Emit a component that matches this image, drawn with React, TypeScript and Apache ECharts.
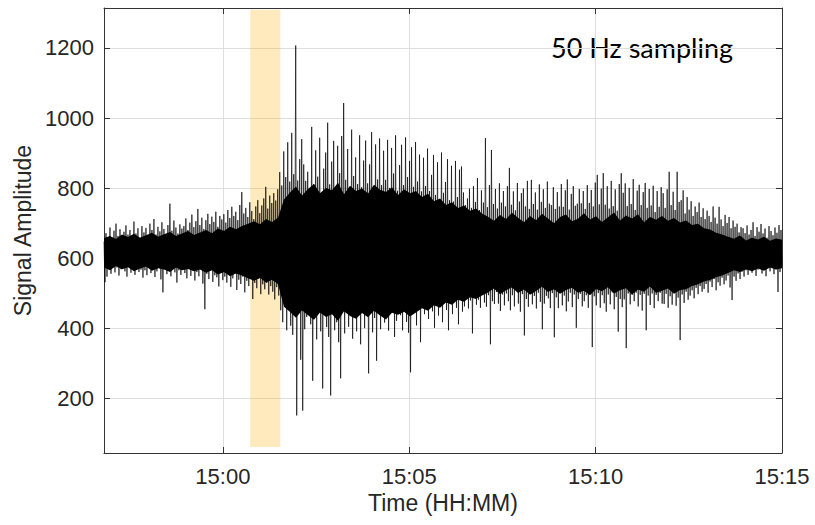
import React, { useEffect, useRef } from 'react';
import * as echarts from 'echarts';

// Signal samples (alternating local maxima / minima), read left to right from 14:56:49 to 15:15:00
const SEG_01 = [648,532, 672,548, 660,571, 688,556, 655,580, 679,560, 699,574, 664,551, 683,569, 657,582, 676,563, 694,548, 668,575, 681,559, 662,570, 705,553, 671,578, 686,561, 659,568, 692,545];
const SEG_02 = [674,566, 687,552, 663,579, 699,558, 681,570, 712,547, 668,563, 690,575, 677,540, 703,503, 684,572, 666,555, 695,568, 756,549, 679,577, 708,560, 688,531, 671,566, 697,553, 685,574];
const SEG_03 = [692,558, 714,543, 681,572, 702,550, 725,566, 689,537, 706,561, 741,549, 695,570, 716,528, 684,455, 709,556, 727,541, 698,569, 719,533, 704,552, 733,546, 690,520, 721,561, 711,538];
const SEG_04 = [726,548, 702,531, 738,560, 715,519, 747,543, 721,556, 733,510, 709,539, 752,527, 789,548, 728,503, 744,536, 718,521, 760,549, 735,484, 712,530, 748,515, 766,542, 729,498, 751,526];
const SEG_05 = [771,512, 804,530, 742,497, 779,521, 758,505, 786,483, 765,518, 797,494, 846,452, 808,418, 905,470, 832,395, 931,457, 819,408, 958,382, 840,466, 1207,152, 822,449, 883,311, 940,166];
const SEG_06 = [868,398, 821,433, 847,460, 796,412, 975,251, 812,441, 908,369, 833,467, 944,392, 789,229, 856,455, 902,404, 987,376, 811,209, 876,462, 935,395, 798,418, 921,361, 843,258, 949,449];
const SEG_07 = [1043,386, 824,452, 912,405, 801,447, 967,371, 835,468, 888,392, 812,437, 951,355, 803,474, 879,401, 936,446, 814,272, 868,463, 960,389, 797,430, 925,308, 825,471, 942,398, 809,440];
const SEG_08 = [907,417, 824,463, 938,394, 801,449, 915,471, 842,376, 951,422, 793,457, 866,438, 924,395, 809,467, 945,419, 832,388, 878,275, 917,462, 804,452, 932,409, 819,476, 896,361, 791,465];
const SEG_09 = [887,441, 806,458, 913,427, 792,466, 838,449, 895,402, 781,471, 874,437, 769,482, 902,418, 787,479, 818,453, 883,395, 766,488, 864,441, 762,476, 878,459, 775,412, 853,482, 862,448];
const SEG_10 = [788,463, 752,491, 771,457, 799,480, 744,386, 806,493, 761,468, 829,482, 738,459, 794,501, 759,474, 943,462, 746,495, 809,355, 909,478, 755,470, 798,504, 742,471, 814,450, 759,497];
const SEG_11 = [792,466, 748,500, 806,478, 858,452, 753,495, 791,463, 737,507, 815,471, 762,448, 786,498, 799,380, 748,484, 821,462, 741,505, 824,469, 755,493, 788,457, 739,502, 811,476, 761,398];
const SEG_12 = [797,471, 744,493, 819,486, 756,458, 752,501, 803,375, 741,489, 789,458, 748,505, 812,466, 747,494, 794,449, 825,477, 739,502, 784,461, 806,497, 750,402, 756,484, 798,499, 757,463];
const SEG_13 = [792,478, 741,495, 809,459, 758,500, 795,347, 748,492, 816,466, 838,501, 754,459, 799,495, 843,472, 753,448, 806,497, 742,469, 821,503, 749,455, 797,490, 736,391, 812,484, 843,461];
const SEG_14 = [787,483, 814,344, 749,500, 801,469, 755,496, 826,478, 738,502, 793,463, 810,496, 752,451, 789,499, 815,395, 744,494, 798,467, 751,500, 807,458, 732,496, 792,478, 747,502, 803,471];
const SEG_15 = [786,470, 744,499, 797,459, 847,492, 752,468, 790,501, 738,465, 847,488, 761,367, 766,497, 794,473, 728,505, 775,482, 739,494, 763,509, 721,486, 748,516, 732,498, 759,521, 718,505];
const SEG_16 = [743,513, 712,527, 736,502, 721,534, 704,518, 748,541, 716,509, 699,532, 747,522, 711,545, 692,526, 724,537, 701,551, 718,517, 686,481, 708,548, 690,536, 699,557, 674,541, 689,562];
const SEG_17 = [686,548, 672,566, 694,553, 668,571, 681,559, 703,576, 664,550, 689,568, 676,581, 698,557, 671,572, 685,549, 659,578, 692,563, 678,584, 666,555, 688,569, 673,504, 695,561, 681,576];

// Dense (solid) core of the signal, upper and lower edge, evenly spaced from 14:56:49 to 15:15:00
const CORE_TOP = [
  658, 664, 655, 668, 661, 670, 659, 666, 673, 662, 669, 675, 664, 671, 678, 667, 674,
  681, 672, 685, 678, 690, 683, 692,
  699, 706, 697, 712, 704, 716,
  768,
  788, 805, 779, 798, 812, 786, 801, 794, 816, 783, 807, 792, 799, 785, 810, 796, 789, 803, 781, 797, 786,
  792, 775, 784, 763, 771, 752, 760, 744, 751, 736, 742, 728,
  719, 707, 724, 712, 730, 716, 703, 721, 709, 727, 714, 700, 718, 725, 706, 713, 729, 711, 720, 704, 717, 731, 708, 722, 714, 726, 703, 718, 710, 721, 707, 715, 702,
  708, 695, 699, 686, 682, 673, 668,
  662, 656, 665, 651, 659, 654, 662, 650, 657, 653,
];
const CORE_BOTTOM = [
  574, 566, 578, 569, 575, 563, 571, 577, 565, 572, 568, 561, 574, 566, 570, 563, 568,
  559, 566, 554, 561, 549, 557, 551,
  543, 536, 545, 531, 539, 527,
  462,
  447, 431, 452, 438, 425, 446, 433, 441, 422, 449, 436, 428, 444, 432, 451, 437, 426, 445, 439, 448, 434,
  446, 458, 451, 466, 459, 474, 468, 482, 476, 489, 484, 494,
  503, 514, 498, 509, 517, 501, 511, 496, 507, 519, 504, 512, 499, 510, 516, 502, 508, 495, 513, 506, 518, 500, 509, 515, 497, 511, 505, 520, 502, 508, 514, 499, 510,
  512, 521, 526, 534, 538, 546, 551,
  558, 566, 561, 569, 563, 571, 565, 574, 568, 572,
];

// Time axis in minutes relative to 15:00
const T_START = -3.19;
const T_END = 15;
const X_TICKS = [0, 5, 10, 15];
const X_TICK_LABELS = ['15:00', '15:05', '15:10', '15:15'];
const Y_MIN = 45;
const Y_MAX = 1314;
const Y_TICKS = [200, 400, 600, 800, 1000, 1200];
// Highlighted window (minutes after 15:00) and its vertical extent
const BAND_X = [0.733, 1.54];
const BAND_Y = [62, 1309];

const SIGNAL = [
  ...SEG_01, ...SEG_02, ...SEG_03, ...SEG_04, ...SEG_05, ...SEG_06, ...SEG_07, ...SEG_08, ...SEG_09,
  ...SEG_10, ...SEG_11, ...SEG_12, ...SEG_13, ...SEG_14, ...SEG_15, ...SEG_16, ...SEG_17,
];

const AXIS_COLOR = '#333333';
const GRID_COLOR = '#dedede';
const FONT = 'Liberation Sans, Arial, sans-serif';

export default function App() {
  const ref = useRef<HTMLDivElement>(null);

  useEffect(() => {
    const chart = echarts.init(ref.current!, null, { renderer: 'svg' });
    const step = (T_END - T_START) / (SIGNAL.length - 1);
    const data = SIGNAL.map((v, i) => [T_START + i * step, v]);
    const coreStep = (T_END - T_START) / (CORE_TOP.length - 1);

    const xBase = {
      type: 'value' as const,
      min: T_START,
      max: T_END,
      axisLine: { show: true, onZero: false, lineStyle: { color: AXIS_COLOR, width: 1 } },
      axisTick: { show: true, inside: true, length: 6, customValues: X_TICKS, lineStyle: { color: AXIS_COLOR } },
    };
    const yBase = {
      type: 'value' as const,
      min: Y_MIN,
      max: Y_MAX,
      axisLine: { show: true, onZero: false, lineStyle: { color: AXIS_COLOR, width: 1 } },
      axisTick: { show: true, inside: true, length: 6, customValues: Y_TICKS, lineStyle: { color: AXIS_COLOR } },
    };

    chart.setOption({
      animation: false,
      backgroundColor: '#ffffff',
      grid: { left: 104, top: 8, width: 678, height: 445, containLabel: false, outerBoundsMode: 'none' },
      xAxis: [
        {
          ...xBase,
          position: 'bottom',
          name: 'Time (HH:MM)',
          nameLocation: 'middle',
          nameGap: 36,
          nameTextStyle: { fontFamily: FONT, fontSize: 23, color: '#262626' },
          axisLabel: {
            customValues: X_TICKS,
            margin: 12,
            fontFamily: FONT,
            fontSize: 22,
            color: '#262626',
            formatter: (v: number) => X_TICK_LABELS[X_TICKS.indexOf(v)] ?? '',
          },
          splitLine: { show: true, lineStyle: { color: GRID_COLOR, width: 1 } },
        },
        {
          ...xBase,
          position: 'top',
          axisLabel: { show: false },
          splitLine: { show: false },
        },
      ],
      yAxis: [
        {
          ...yBase,
          position: 'left',
          name: 'Signal Amplitude',
          nameLocation: 'middle',
          nameGap: 64,
          nameTextStyle: { fontFamily: FONT, fontSize: 23, color: '#262626' },
          axisLabel: {
            customValues: Y_TICKS,
            margin: 10,
            fontFamily: FONT,
            fontSize: 22,
            color: '#262626',
            formatter: (v: number) => String(v),
          },
          splitLine: { show: true, lineStyle: { color: GRID_COLOR, width: 1 } },
        },
        {
          ...yBase,
          position: 'right',
          axisLabel: { show: false },
          splitLine: { show: false },
        },
      ],
      series: [
        {
          type: 'custom',
          xAxisIndex: 0,
          yAxisIndex: 0,
          data: [0],
          silent: true,
          z: 2,
          clip: true,
          renderItem: (_params: any, api: any) => {
            const upper = CORE_TOP.map((v, i) => api.coord([T_START + i * coreStep, v]));
            const lower = CORE_BOTTOM.map((v, i) => api.coord([T_START + i * coreStep, v])).reverse();
            return {
              type: 'polygon',
              shape: { points: [...upper, ...lower] },
              style: { fill: '#000000' },
            };
          },
        },
        {
          type: 'line',
          xAxisIndex: 0,
          yAxisIndex: 0,
          data,
          showSymbol: false,
          symbol: 'none',
          silent: true,
          z: 3,
          lineStyle: { color: '#000000', width: 0.8, opacity: 0.85 },
        },
        {
          type: 'line',
          xAxisIndex: 0,
          yAxisIndex: 0,
          data: [],
          silent: true,
          z: 5,
          markArea: {
            silent: true,
            itemStyle: { color: 'rgba(255,183,28,0.29)' },
            data: [[{ coord: [BAND_X[0], BAND_Y[0]] }, { coord: [BAND_X[1], BAND_Y[1]] }]],
          },
        },
      ],
      graphic: [
        {
          type: 'text',
          left: 551,
          top: 34,
          style: { text: '50 Hz sampling', fontFamily: 'Lato, sans-serif', fontSize: 27, fill: '#000000' },
        },
      ],
    });

    return () => chart.dispose();
  }, []);

  return <div ref={ref} style={{ position: 'fixed', left: 0, top: 0, width: 815, height: 525 }} />;
}
